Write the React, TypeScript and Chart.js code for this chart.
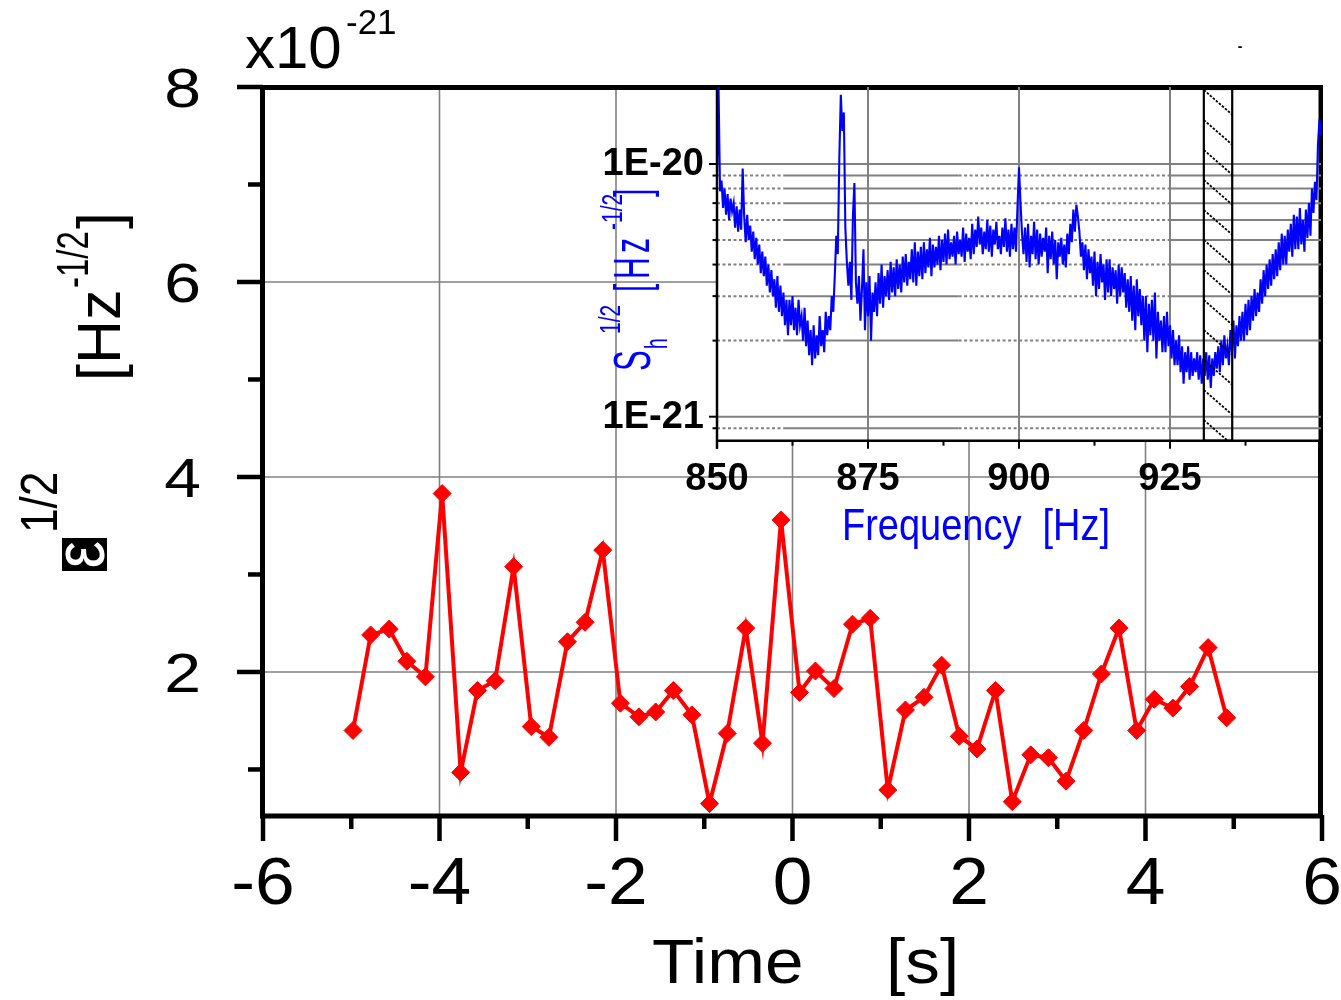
import React, { useEffect, useRef } from "react";
import { Chart, registerables } from "chart.js";

Chart.register(...registerables);

const FONT = '"Liberation Sans", Arial, Helvetica, sans-serif';
const W = 1341;
const H = 1000;

// ---------- main panel: eps^1/2 (units of 1e-21 Hz^-1/2) versus time ----------
const timeSeconds = [
  -4.98, -4.78, -4.57, -4.37, -4.16, -3.97, -3.76, -3.57, -3.37, -3.16,
  -2.96, -2.76, -2.55, -2.35, -2.15, -1.95, -1.74, -1.55, -1.35, -1.14,
  -0.94, -0.74, -0.53, -0.34, -0.13, 0.08, 0.26, 0.47, 0.68, 0.88,
  1.08, 1.28, 1.49, 1.69, 1.89, 2.09, 2.3, 2.49, 2.7, 2.9,
  3.1, 3.3, 3.5, 3.7, 3.9, 4.1, 4.31, 4.5, 4.71, 4.92,
];
const strainAmplitude = [
  1.4, 2.38, 2.44, 2.11, 1.95, 3.83, 0.97, 1.81, 1.91, 3.08,
  1.44, 1.33, 2.31, 2.51, 3.25, 1.68, 1.54, 1.59, 1.81, 1.56,
  0.65, 1.37, 2.45, 1.27, 3.56, 1.79, 2.01, 1.83, 2.49, 2.55,
  0.79, 1.61, 1.74, 2.07, 1.34, 1.21, 1.81, 0.67, 1.15, 1.12,
  0.88, 1.4, 1.98, 2.45, 1.4, 1.72, 1.63, 1.85, 2.25, 1.53,
];
const mainXMajorTicks = [-6, -4, -2, 0, 2, 4, 6];
const mainXMinorTicks = [-5, -3, -1, 1, 3, 5];
const mainYMajorTicks = [2, 4, 6, 8];
const mainYMinorTicks = [1, 3, 5, 7];
const mainXGrid = [-4, -2, 0, 2, 4];
const mainYGrid = [2, 4, 6];

// ---------- inset: S_h^1/2 (units of 1e-21 Hz^-1/2) versus frequency ----------
const spectrumStartHz = 850;
const spectrumStepHz = 0.25;
const spectrumValues = [
  9.0, 20.5, 7.8, 8.6,
  6.7, 8.0, 6.3, 7.6,
  6.0, 7.3, 6.5, 7.0,
  5.6, 6.8, 5.4, 6.6,
  5.5, 9.6, 6.2, 4.9,
  6.3, 5.0, 5.7, 4.5,
  5.4, 4.2, 5.1, 4.0,
  4.8, 3.7, 4.5, 3.6,
  4.3, 3.3, 4.0, 3.1,
  3.8, 3.0, 3.5, 2.7,
  3.6, 2.6, 3.3, 2.5,
  3.1, 2.3, 2.9, 2.1,
  2.9, 2.3, 3.0, 2.2,
  2.7, 2.1, 2.9, 2.3,
  2.5, 2.0, 2.7, 1.9,
  2.4, 1.75, 2.2, 1.6,
  2.3, 1.7, 2.1, 1.75,
  2.5, 1.9, 2.2, 1.8,
  2.6, 2.1, 2.5, 2.2,
  3.0, 2.6, 3.6, 5.2,
  4.4, 10.5, 18.8, 13.5,
  16.0, 5.6, 4.1, 3.3,
  4.1, 2.9, 6.2, 8.4,
  3.4, 2.8, 3.6, 2.4,
  3.2, 4.6, 2.2, 3.4,
  2.5, 3.6, 2.0, 3.1,
  2.6, 3.4, 2.5, 3.7,
  2.8, 4.0, 2.7, 3.6,
  3.0, 3.8, 2.9, 4.1,
  3.1, 3.9, 3.0, 4.2,
  3.2, 4.0, 3.1, 4.3,
  3.4, 4.4, 3.3, 4.1,
  3.5, 4.6, 3.4, 4.9,
  3.3, 4.5, 3.6, 4.7,
  3.5, 4.9, 3.7, 4.6,
  3.9, 5.1, 3.6, 4.8,
  3.9, 4.7, 4.0, 5.2,
  3.8, 5.0, 4.1, 5.3,
  4.0, 5.5, 4.2, 4.9,
  4.3, 5.2, 4.0, 5.4,
  4.4, 5.0, 4.3, 5.6,
  4.1, 5.3, 4.5, 5.1,
  4.2, 5.8, 4.4, 5.5,
  4.7, 6.2, 4.8, 5.6,
  4.4, 5.4, 4.6, 6.0,
  4.5, 5.7, 4.3, 5.5,
  4.8, 5.9, 4.6, 5.2,
  4.4, 5.6, 4.7, 6.1,
  4.5, 5.5, 4.3, 5.8,
  4.6, 5.6, 4.5, 6.8,
  9.7, 7.0, 5.3, 4.4,
  5.6, 4.1, 5.8, 3.9,
  5.2, 4.4, 5.9, 4.2,
  5.5, 4.0, 5.3, 4.3,
  5.1, 4.5, 5.6, 3.7,
  5.2, 4.2, 5.4, 4.0,
  5.0, 3.5, 4.9, 4.3,
  5.1, 4.0, 4.8, 3.9,
  5.3, 4.4, 5.8, 4.9,
  6.6, 5.4, 6.9, 6.2,
  5.4, 4.3, 4.9, 3.8,
  4.8, 3.5, 4.6, 3.7,
  4.3, 3.3, 4.5, 3.0,
  4.1, 3.2, 4.4, 3.4,
  4.0, 2.9, 4.2, 3.1,
  4.2, 3.0, 3.9, 3.2,
  3.8, 2.8, 4.0, 3.0,
  3.9, 3.1, 3.7, 2.7,
  3.5, 2.6, 3.6, 2.4,
  3.3, 2.2, 3.5, 2.5,
  3.2, 2.3, 3.0, 2.0,
  3.0, 1.8, 2.8, 2.1,
  2.9, 2.0, 3.1, 1.7,
  2.6, 2.0, 2.4, 1.8,
  2.5, 1.8, 2.6, 1.9,
  2.3, 1.7, 2.2, 1.6,
  2.0, 1.6, 2.1, 1.5,
  1.9, 1.35, 1.8, 1.5,
  1.9, 1.4, 1.8, 1.45,
  1.7, 1.5, 1.8, 1.4,
  1.75, 1.35, 1.7, 1.45,
  1.8, 1.4, 1.75, 1.3,
  1.7, 1.45, 1.8, 1.55,
  1.9, 1.5, 2.0, 1.6,
  2.1, 1.7, 1.9, 1.6,
  2.2, 1.8, 2.4, 1.7,
  2.3, 1.9, 2.5, 2.0,
  2.6, 2.0, 2.8, 2.1,
  2.9, 2.2, 3.0, 2.4,
  3.2, 2.5, 3.1, 2.6,
  3.5, 2.8, 3.8, 3.0,
  4.0, 3.2, 4.2, 3.3,
  4.4, 3.5, 4.6, 3.6,
  4.9, 3.8, 5.3, 4.0,
  5.2, 4.0, 5.5, 4.5,
  5.8, 4.3, 6.3, 4.6,
  6.2, 4.6, 6.7, 4.8,
  6.0, 4.5, 6.6, 5.1,
  7.0, 5.2, 8.0, 6.4,
  8.5, 7.2, 12.0, 15.0,
  13.0,
];
const insetXMajorTicks = [850, 875, 900, 925];
const insetXMinorTicks = [862.5, 887.5, 912.5, 937.5];
const insetXGrid = [875, 900, 925];
const insetYMajorTicks = [1, 10];
const insetYTickLabels = ["1E-21", "1E-20"];
const insetYMinorTicks = [0.9, 2, 3, 4, 5, 6, 7, 8, 9];
const insetSolidGridSpansHz = [
  [861, 890],
  [925, 950],
];
const hatchBandHz = [930.6, 935.3];

type TextOpts = {
  size: number;
  bold?: boolean;
  color?: string;
  align?: "left" | "center" | "right";
  sx?: number;
  width?: number;
  rot?: boolean;
};

function drawText(ctx: CanvasRenderingContext2D, s: string, x: number, y: number, o: TextOpts) {
  ctx.save();
  ctx.font = `${o.bold ? "bold " : ""}${o.size}px ${FONT}`;
  ctx.fillStyle = o.color || "#000";
  ctx.textBaseline = "alphabetic";
  ctx.textAlign = "left";
  const m = ctx.measureText(s).width;
  const sx = o.width ? o.width / m : o.sx ?? 1;
  const w = m * sx;
  ctx.translate(x, y);
  if (o.rot) ctx.rotate(-Math.PI / 2);
  let off = 0;
  if (o.align === "center") off = -w / 2;
  else if (o.align === "right") off = -w;
  ctx.translate(off, 0);
  ctx.scale(sx, 1);
  ctx.fillText(s, 0, 0);
  ctx.restore();
}

function line(ctx: CanvasRenderingContext2D, x1: number, y1: number, x2: number, y2: number) {
  ctx.beginPath();
  ctx.moveTo(x1, y1);
  ctx.lineTo(x2, y2);
  ctx.stroke();
}

const mainDecor = {
  id: "mainDecor",
  beforeDatasetsDraw(chart: any) {
    const { ctx, chartArea: a } = chart;
    const xs = chart.scales.x;
    const ys = chart.scales.y;
    ctx.save();
    ctx.strokeStyle = "#808080";
    ctx.lineWidth = 1.6;
    for (const v of mainXGrid) {
      const px = xs.getPixelForValue(v);
      line(ctx, px, a.top, px, a.bottom);
    }
    for (const v of mainYGrid) {
      const py = ys.getPixelForValue(v);
      line(ctx, a.left, py, a.right, py);
    }
    ctx.restore();
  },
  afterDatasetsDraw(chart: any) {
    const { ctx, chartArea: a } = chart;
    const xs = chart.scales.x;
    const ys = chart.scales.y;
    ctx.save();
    ctx.strokeStyle = "#000";
    ctx.lineWidth = 5;
    ctx.strokeRect(a.left - 0.5, a.top + 0.5, a.right - a.left - 1, a.bottom + 1 - a.top - 0.5);
    ctx.lineWidth = 4.5;
    ctx.lineCap = "butt";
    for (const v of mainXMajorTicks) {
      const px = xs.getPixelForValue(v);
      line(ctx, px, a.bottom, px, a.bottom + 26);
      drawText(ctx, String(v), px, 904, { size: 66, align: "center", sx: 1.08 });
    }
    for (const v of mainXMinorTicks) {
      const px = xs.getPixelForValue(v);
      line(ctx, px, a.bottom, px, a.bottom + 14);
    }
    for (const v of mainYMajorTicks) {
      const py = ys.getPixelForValue(v);
      line(ctx, a.left, py, a.left - 26, py);
      drawText(ctx, String(v), 201, py + 20, { size: 56, align: "right", sx: 1.18 });
    }
    for (const v of mainYMinorTicks) {
      const py = ys.getPixelForValue(v);
      line(ctx, a.left, py, a.left - 15, py);
    }
    // x axis title
    drawText(ctx, "Time", 652, 983, { size: 63, sx: 1.1 });
    drawText(ctx, "[s]", 886, 983, { size: 63, sx: 1.1 });
    // scale factor
    drawText(ctx, "x10", 245, 68, { size: 60 });
    drawText(ctx, "-21", 346, 34, { size: 35 });
    drawText(ctx, "-", 1240, 51, { size: 14, bold: true, align: "center" });
    // y axis title (rotated)
    ctx.fillStyle = "#000";
    ctx.fillRect(62, 538, 45, 33);
    drawText(ctx, "ε", 104, 554.5, { size: 72, rot: true, align: "center", sx: 0.85, color: "#fff" });
    drawText(ctx, "1/2", 57, 533, { size: 52, rot: true, sx: 0.85 });
    drawText(ctx, "[Hz", 120, 381, { size: 61, rot: true });
    drawText(ctx, "-1/2", 88, 288, { size: 44, rot: true, sx: 0.75 });
    drawText(ctx, "]", 120, 229, { size: 61, rot: true });
    ctx.restore();
  },
};

const insetDecor = {
  id: "insetDecor",
  beforeDraw(chart: any) {
    const { ctx, chartArea: a } = chart;
    ctx.save();
    ctx.fillStyle = "#fff";
    ctx.fillRect(a.left, a.top + 3, a.right - a.left - 2.5, a.bottom - a.top - 3);
    ctx.restore();
  },
  beforeDatasetsDraw(chart: any) {
    const { ctx, chartArea: a } = chart;
    const xs = chart.scales.x;
    const ys = chart.scales.y;
    ctx.save();
    ctx.strokeStyle = "#808080";
    ctx.lineWidth = 2;
    for (const v of insetXGrid) {
      const px = xs.getPixelForValue(v);
      line(ctx, px, a.top, px, a.bottom);
    }
    for (const v of insetYMajorTicks) {
      const py = ys.getPixelForValue(v);
      line(ctx, a.left, py, a.right, py);
    }
    const xmin = xs.min;
    const xmax = xs.max;
    for (const v of insetYMinorTicks) {
      const py = ys.getPixelForValue(v);
      let cur = xmin;
      const seg = (f0: number, f1: number, dotted: boolean) => {
        if (f1 <= f0) return;
        ctx.setLineDash(dotted ? [3, 2.5] : []);
        line(ctx, xs.getPixelForValue(f0), py, xs.getPixelForValue(f1), py);
      };
      for (const [s, e] of insetSolidGridSpansHz) {
        seg(cur, s, true);
        seg(s, e, false);
        cur = e;
      }
      seg(cur, xmax, true);
    }
    ctx.setLineDash([]);
    ctx.restore();
  },
  afterDatasetsDraw(chart: any) {
    const { ctx, chartArea: a } = chart;
    const xs = chart.scales.x;
    const ys = chart.scales.y;
    ctx.save();
    // hatched band
    const x1 = xs.getPixelForValue(hatchBandHz[0]);
    const x2 = xs.getPixelForValue(hatchBandHz[1]);
    ctx.save();
    ctx.beginPath();
    ctx.rect(x1, a.top, x2 - x1, a.bottom - a.top);
    ctx.clip();
    ctx.strokeStyle = "#000";
    ctx.lineWidth = 1.8;
    ctx.setLineDash([2.5, 1.5]);
    for (let k = -1; k < 14; k++) {
      const y0 = a.top + 3 + 30 * k;
      line(ctx, x1, y0, x2, y0 + (x2 - x1) * 0.87);
    }
    ctx.restore();
    ctx.strokeStyle = "#000";
    ctx.lineWidth = 2.2;
    ctx.strokeRect(x1, a.top + 2, x2 - x1, a.bottom - a.top - 2);
    // axes
    ctx.lineWidth = 2.5;
    line(ctx, a.left, a.top + 2, a.left, a.bottom + 8);
    line(ctx, a.left, a.bottom, a.right, a.bottom);
    ctx.lineWidth = 2;
    for (const v of insetXMajorTicks) {
      const px = xs.getPixelForValue(v);
      line(ctx, px, a.bottom, px, a.bottom + 8);
      drawText(ctx, String(v), px, 490, { size: 38, bold: true, align: "center" });
    }
    for (const v of insetXMinorTicks) {
      const px = xs.getPixelForValue(v);
      line(ctx, px, a.bottom, px, a.bottom + 5);
    }
    insetYMajorTicks.forEach((v, i) => {
      const py = ys.getPixelForValue(v);
      line(ctx, a.left, py, a.left - 8, py);
      drawText(ctx, insetYTickLabels[i], 704, py + 11.5, { size: 38, bold: true, align: "right" });
    });
    for (const v of insetYMinorTicks) {
      const py = ys.getPixelForValue(v);
      line(ctx, a.left, py, a.left - 4.5, py);
    }
    // titles
    const blue = "#0000ff";
    drawText(ctx, "Frequency  [Hz]", 842, 540, { size: 45, width: 268, color: blue });
    drawText(ctx, "S", 650, 371, { size: 52, rot: true, sx: 0.6, color: blue });
    drawText(ctx, "h", 667, 349, { size: 32, rot: true, sx: 0.6, color: blue });
    drawText(ctx, "1/2", 620, 334, { size: 30, rot: true, sx: 0.7, color: blue });
    drawText(ctx, "[", 649, 292, { size: 50, rot: true, sx: 0.6, color: blue });
    drawText(ctx, "H", 649, 279, { size: 50, rot: true, sx: 0.6, color: blue });
    drawText(ctx, "z", 649, 253, { size: 50, rot: true, sx: 0.6, color: blue });
    drawText(ctx, "-1/2", 622, 230, { size: 30, rot: true, sx: 0.7, color: blue });
    drawText(ctx, "]", 649, 197, { size: 50, rot: true, sx: 0.6, color: blue });
    ctx.restore();
  },
};

export default function App() {
  const mainRef = useRef<HTMLCanvasElement>(null);
  const insetRef = useRef<HTMLCanvasElement>(null);

  useEffect(() => {
    const main = new Chart(mainRef.current as HTMLCanvasElement, {
      type: "line",
      data: {
        datasets: [
          {
            data: timeSeconds.map((t, i) => ({ x: t, y: strainAmplitude[i] })),
            borderColor: "#ff0000",
            backgroundColor: "#ff0000",
            borderWidth: 4,
            pointStyle: "rectRot",
            pointRadius: 9,
            pointBorderWidth: 1,
            pointBackgroundColor: "#ff0000",
            pointBorderColor: "#ff0000",
            tension: 0,
          },
        ],
      },
      options: {
        responsive: false,
        animation: false,
        events: [],
        layout: { padding: { left: 263, top: 87, right: 19, bottom: 185 } },
        plugins: { legend: { display: false }, tooltip: { enabled: false } },
        scales: {
          x: { type: "linear", min: -6, max: 6, display: false },
          y: { type: "linear", min: 0.533, max: 8, display: false },
        },
      },
      plugins: [mainDecor],
    } as any);

    const inset = new Chart(insetRef.current as HTMLCanvasElement, {
      type: "line",
      data: {
        datasets: [
          {
            data: spectrumValues.map((v, i) => ({ x: spectrumStartHz + i * spectrumStepHz, y: v })),
            borderColor: "#0000ff",
            borderWidth: 2.1,
            pointRadius: 0,
            tension: 0,
          },
        ],
      },
      options: {
        responsive: false,
        animation: false,
        events: [],
        layout: { padding: { left: 717, top: 87, right: 20, bottom: 559.3 } },
        plugins: { legend: { display: false }, tooltip: { enabled: false } },
        scales: {
          x: { type: "linear", min: 850, max: 950, display: false },
          y: { type: "logarithmic", min: 0.8035, max: 20.17, display: false },
        },
      },
      plugins: [insetDecor],
    } as any);

    return () => {
      main.destroy();
      inset.destroy();
    };
  }, []);

  return (
    <div style={{ position: "absolute", left: 0, top: 0, width: W, height: H, background: "#fff", overflow: "hidden" }}>
      <canvas ref={mainRef} width={W} height={H} style={{ position: "absolute", left: 0, top: 0 }} />
      <canvas ref={insetRef} width={W} height={H} style={{ position: "absolute", left: 0, top: 0 }} />
    </div>
  );
}
